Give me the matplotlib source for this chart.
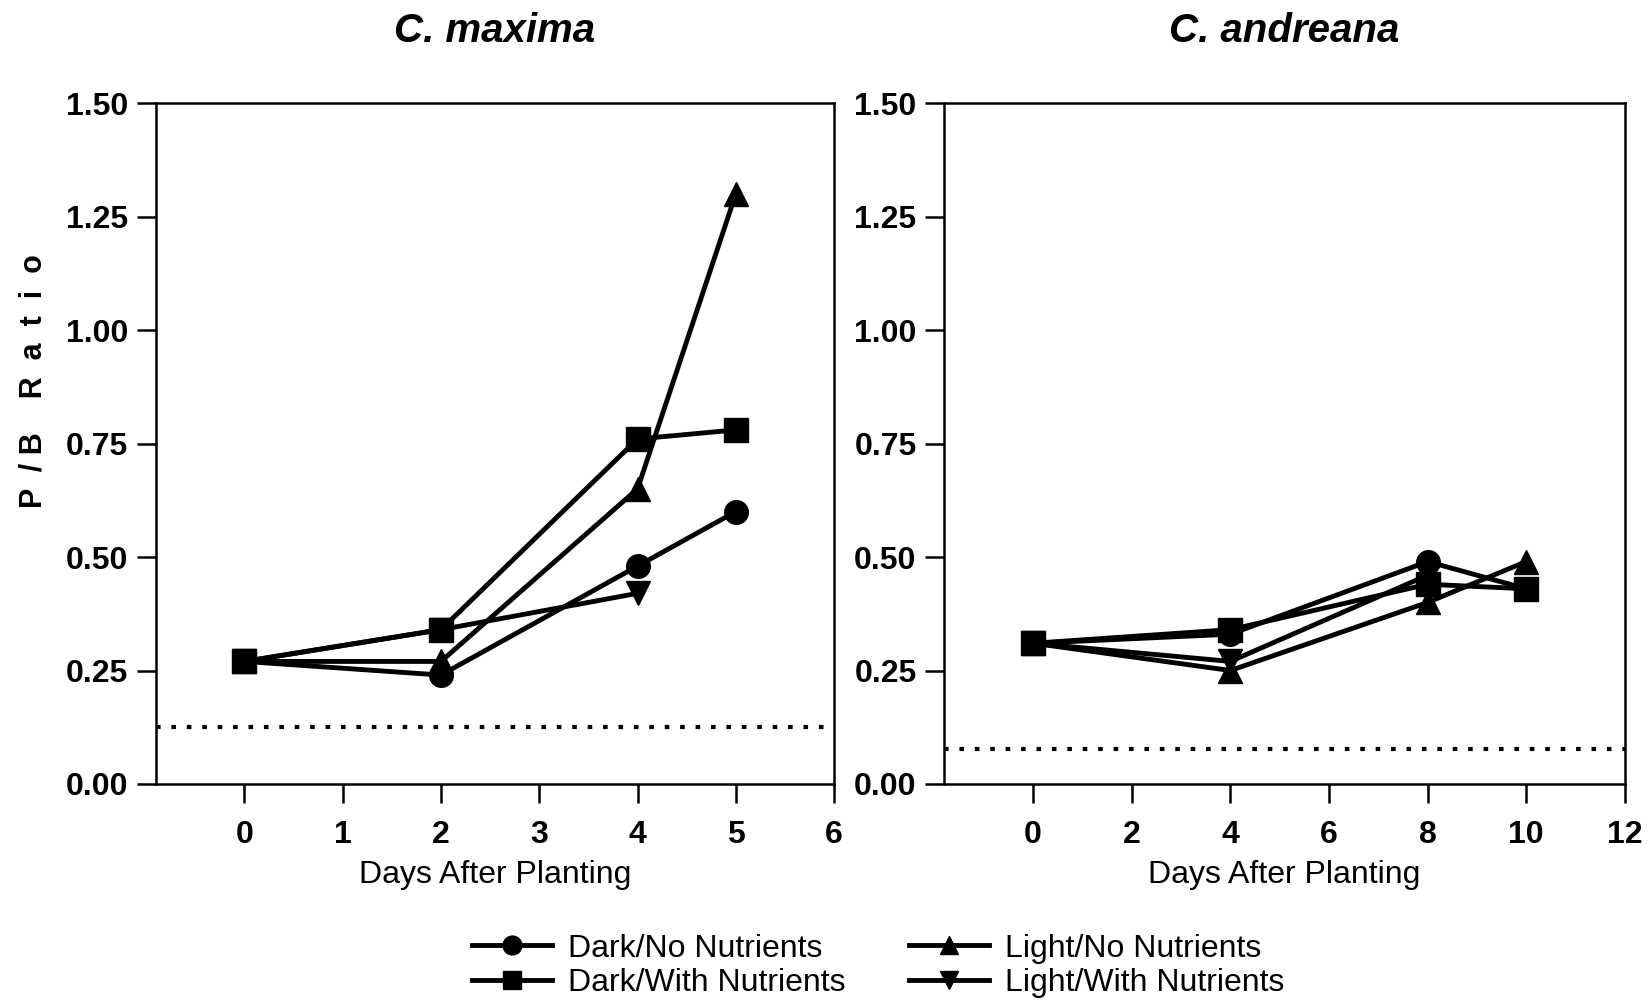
import matplotlib
matplotlib.use("Agg")
import matplotlib.pyplot as plt

plt.rcParams['font.family'] = ['Liberation Sans', 'DejaVu Sans']

# ====== Data ======
series_names = ["Dark/No Nutrients", "Dark/With Nutrients",
                "Light/No Nutrients", "Light/With Nutrients"]
markers = ["o", "s", "^", "v"]

maxima_days = [0, 2, 4, 5]
maxima_dark_no = [0.27, 0.24, 0.48, 0.60]
maxima_dark_with = [0.27, 0.34, 0.76, 0.78]
maxima_light_no = [0.27, 0.27, 0.65, 1.30]
maxima_light_with = [0.27, 0.34, 0.42]
maxima_baseline = 0.125

andreana_days = [0, 4, 8, 10]
andreana_dark_no = [0.31, 0.33, 0.49, 0.43]
andreana_dark_with = [0.31, 0.34, 0.44, 0.43]
andreana_light_no = [0.31, 0.25, 0.40, 0.49]
andreana_light_with = [0.31, 0.27, 0.46]
andreana_baseline = 0.077

y_ticks = [0.0, 0.25, 0.5, 0.75, 1.0, 1.25, 1.5]
maxima_xticks = [0, 1, 2, 3, 4, 5, 6]
andreana_xticks = [0, 2, 4, 6, 8, 10, 12]


def draw_panel(ax, days, series, baseline, xticks, xmax, title):
    lines = []
    for vals, mk, name in zip(series, markers, series_names):
        ln, = ax.plot(days[:len(vals)], vals, color='black', lw=3.5,
                      marker=mk, markersize=17, label=name)
        lines.append(ln)
    ax.axhline(baseline, color='black', lw=3, ls=(0, (1.1, 2.6)))
    ax.set_xlim(-0.15 * xmax, xmax)
    ax.set_ylim(0, 1.5)
    ax.set_xticks(xticks)
    ax.set_yticks(y_ticks)
    ax.set_yticklabels([f"{v:.2f}" for v in y_ticks])
    ax.tick_params(direction='out', length=14, width=1.8, labelsize=23, pad=6)
    ax.tick_params(axis='x', pad=12)
    for lbl in ax.get_xticklabels() + ax.get_yticklabels():
        lbl.set_fontweight('bold')
    for sp in ax.spines.values():
        sp.set_linewidth(1.8)
    ax.set_xlabel("Days After Planting", fontsize=23, labelpad=7)
    ax.set_title(title, fontsize=29, fontweight='bold', style='italic', pad=44)
    return lines


fig = plt.figure(figsize=(16.49, 10.01), dpi=100)
ax1 = fig.add_axes([0.0946, 0.2168, 0.4112, 0.6802])
ax2 = fig.add_axes([0.5727, 0.2168, 0.4127, 0.6802])

lines = draw_panel(ax1, maxima_days,
                   [maxima_dark_no, maxima_dark_with, maxima_light_no, maxima_light_with],
                   maxima_baseline, maxima_xticks, 6, "C. maxima")
draw_panel(ax2, andreana_days,
           [andreana_dark_no, andreana_dark_with, andreana_light_no, andreana_light_with],
           andreana_baseline, andreana_xticks, 12, "C. andreana")

ax1.set_ylabel("P  / B    R  a  t  i  o", fontsize=22, fontweight='bold')
ax1.yaxis.set_label_coords(-0.158, 0.592)

fig.legend(handles=lines, labels=series_names, loc='center', ncol=2,
           bbox_to_anchor=(0.5325, 0.035), frameon=False, fontsize=23,
           handlelength=2.5, columnspacing=2.0, labelspacing=0.15,
           handletextpad=0.5, markerscale=0.8)

fig.savefig("out.png", dpi=100)
